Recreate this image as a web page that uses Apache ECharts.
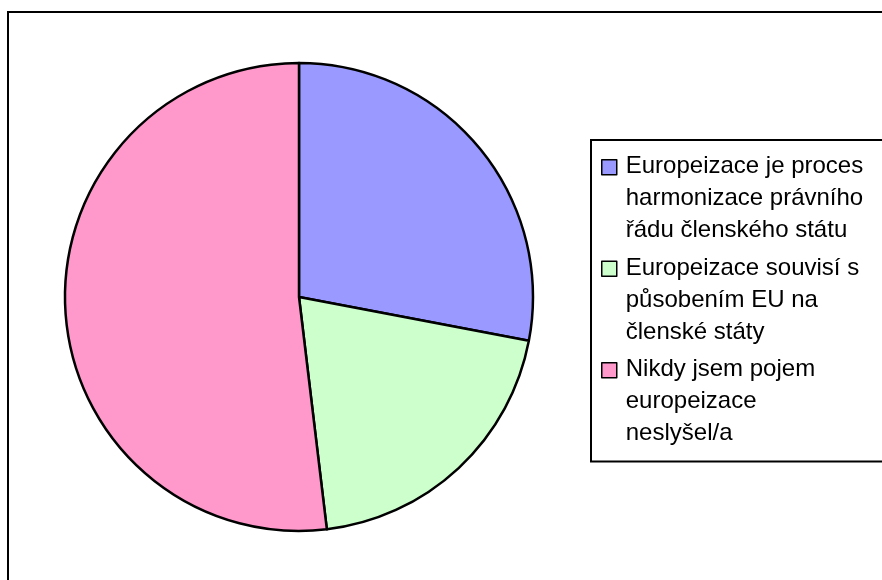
<!DOCTYPE html>
<html>
<head>
<meta charset="utf-8">
<script src="https://cdn.jsdelivr.net/npm/echarts@6/dist/echarts.min.js"></script>
<style>html,body{margin:0;padding:0;background:#fff}#c{width:882px;height:580px}</style>
</head>
<body>
<div id="c"></div>
<script>
const categories = [
  'Europeizace je proces\nharmonizace právního\nřádu členského státu',
  'Europeizace souvisí s\npůsobením EU na\nčlenské státy',
  'Nikdy jsem pojem\neuropeizace\nneslyšel/a'
];
const values = [28.0, 20.1, 51.9];
const colors = ['#9999FF', '#CCFFCC', '#FF99CC'];

const chart = echarts.init(document.getElementById('c'), null, {renderer: 'canvas'});
chart.setOption({
  animation: false,
  backgroundColor: '#fff',
  color: colors,
  graphic: [{
    type: 'rect',
    shape: {x: 8, y: 12, width: 1000, height: 1000},
    style: {fill: 'none', stroke: '#000', lineWidth: 2},
    silent: true, z: 0
  }],
  legend: {
    orient: 'vertical',
    left: 591,
    top: 140,
    padding: [10, 60, 11, 10],
    borderColor: '#000',
    borderWidth: 2,
    backgroundColor: '#fff',
    itemGap: 4,
    itemWidth: 19,
    itemHeight: 96,
    icon: 'path://M0,0M0,9h15v15h-15zM19,96',
    itemStyle: {borderColor: '#000', borderWidth: 1.5},
    selectedMode: false,
    data: categories,
    textStyle: {
      fontFamily: 'Liberation Sans, Arial, sans-serif',
      fontSize: 24,
      lineHeight: 32,
      color: '#000'
    }
  },
  series: [{
    type: 'pie',
    center: [299, 297],
    radius: 234,
    startAngle: 90,
    clockwise: true,
    label: {show: false},
    labelLine: {show: false},
    emphasis: {disabled: true},
    itemStyle: {borderColor: '#000', borderWidth: 2.5},
    data: categories.map((n, i) => ({name: n, value: values[i]}))
  }]
});
</script>
</body>
</html>
